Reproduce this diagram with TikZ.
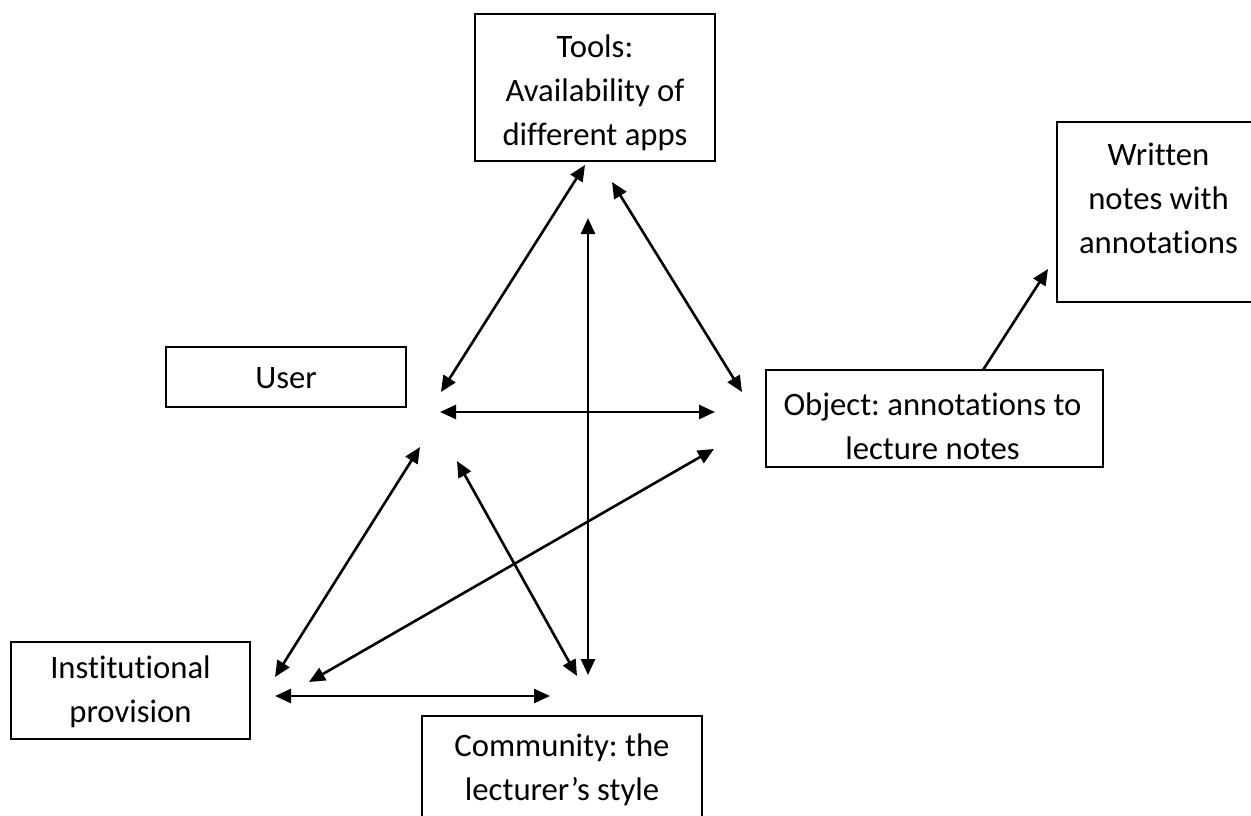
\documentclass[tikz,border=0pt]{standalone}
\usepackage{fontspec}
\setmainfont{Carlito}[RawFeature={-liga}]
\usetikzlibrary{arrows.meta}
\frenchspacing
\begin{document}
\begin{tikzpicture}[x=1pt,y=-1pt,
  box/.style={draw, line width=1.8pt, inner sep=0pt},
  txt/.style={font=\fontsize{32.7}{44}\selectfont, align=center, inner sep=0pt},
  link/.style={line width=2.6pt, {Triangle[length=16pt,width=14pt]}-{Triangle[length=16pt,width=14pt]}},
  onelink/.style={line width=2.6pt, -{Triangle[length=16pt,width=14pt]}}]
  \useasboundingbox (0,0) rectangle (1251,816);

  % activity-system boxes
  \node[box, minimum width=240pt, minimum height=147pt,
        label={[txt, yshift=-5.5pt]center:Tools:\\Availability of\\different apps}]
        (tools) at (595,87.5) {};
  \node[box, minimum width=203pt, minimum height=180pt,
        label={[txt, yshift=14pt]center:Written\\notes with\\annotations}]
        (written) at (1158.5,212) {};
  \node[box, minimum width=240pt, minimum height=60pt,
        label={[txt, yshift=-1pt]center:User}]
        (user) at (286,377) {};
  \node[box, minimum width=337pt, minimum height=97pt,
        label={[txt, xshift=-2pt, yshift=-7.5pt]center:Object: annotations to\\lecture notes}]
        (object) at (934.5,418.5) {};
  \node[box, minimum width=239pt, minimum height=97pt,
        label={[txt, yshift=-1.5pt]center:Institutional\\provision}]
        (inst) at (130.5,690.5) {};
  \node[box, minimum width=280pt, minimum height=124pt,
        label={[txt, yshift=8pt]center:Community: the\\lecturer’s style}]
        (community) at (562,778) {};

  % connector end points
  \coordinate (tU) at (585,165);  \coordinate (uT) at (441,392);
  \coordinate (tO) at (612,182);  \coordinate (oT) at (742,392);
  \coordinate (tC) at (588,218);  \coordinate (cT) at (588,675);
  \coordinate (uO) at (440,412);  \coordinate (oU) at (715,412);
  \coordinate (uI) at (420,447);  \coordinate (iU) at (275,677);
  \coordinate (uC) at (457,461);  \coordinate (cU) at (577,676);
  \coordinate (oI) at (714,449);  \coordinate (iO) at (309,682);
  \coordinate (iC) at (275,696);  \coordinate (cI) at (550,696);
  \coordinate (oW) at (983,370);  \coordinate (wO) at (1048,269);

  % relations
  \draw[link] (tU) -- (uT);
  \draw[link] (tO) -- (oT);
  \draw[link] (tC) -- (cT);
  \draw[link] (uO) -- (oU);
  \draw[link] (uI) -- (iU);
  \draw[link] (uC) -- (cU);
  \draw[link] (oI) -- (iO);
  \draw[link] (iC) -- (cI);
  \draw[onelink] (oW) -- (wO);
\end{tikzpicture}
\end{document}
